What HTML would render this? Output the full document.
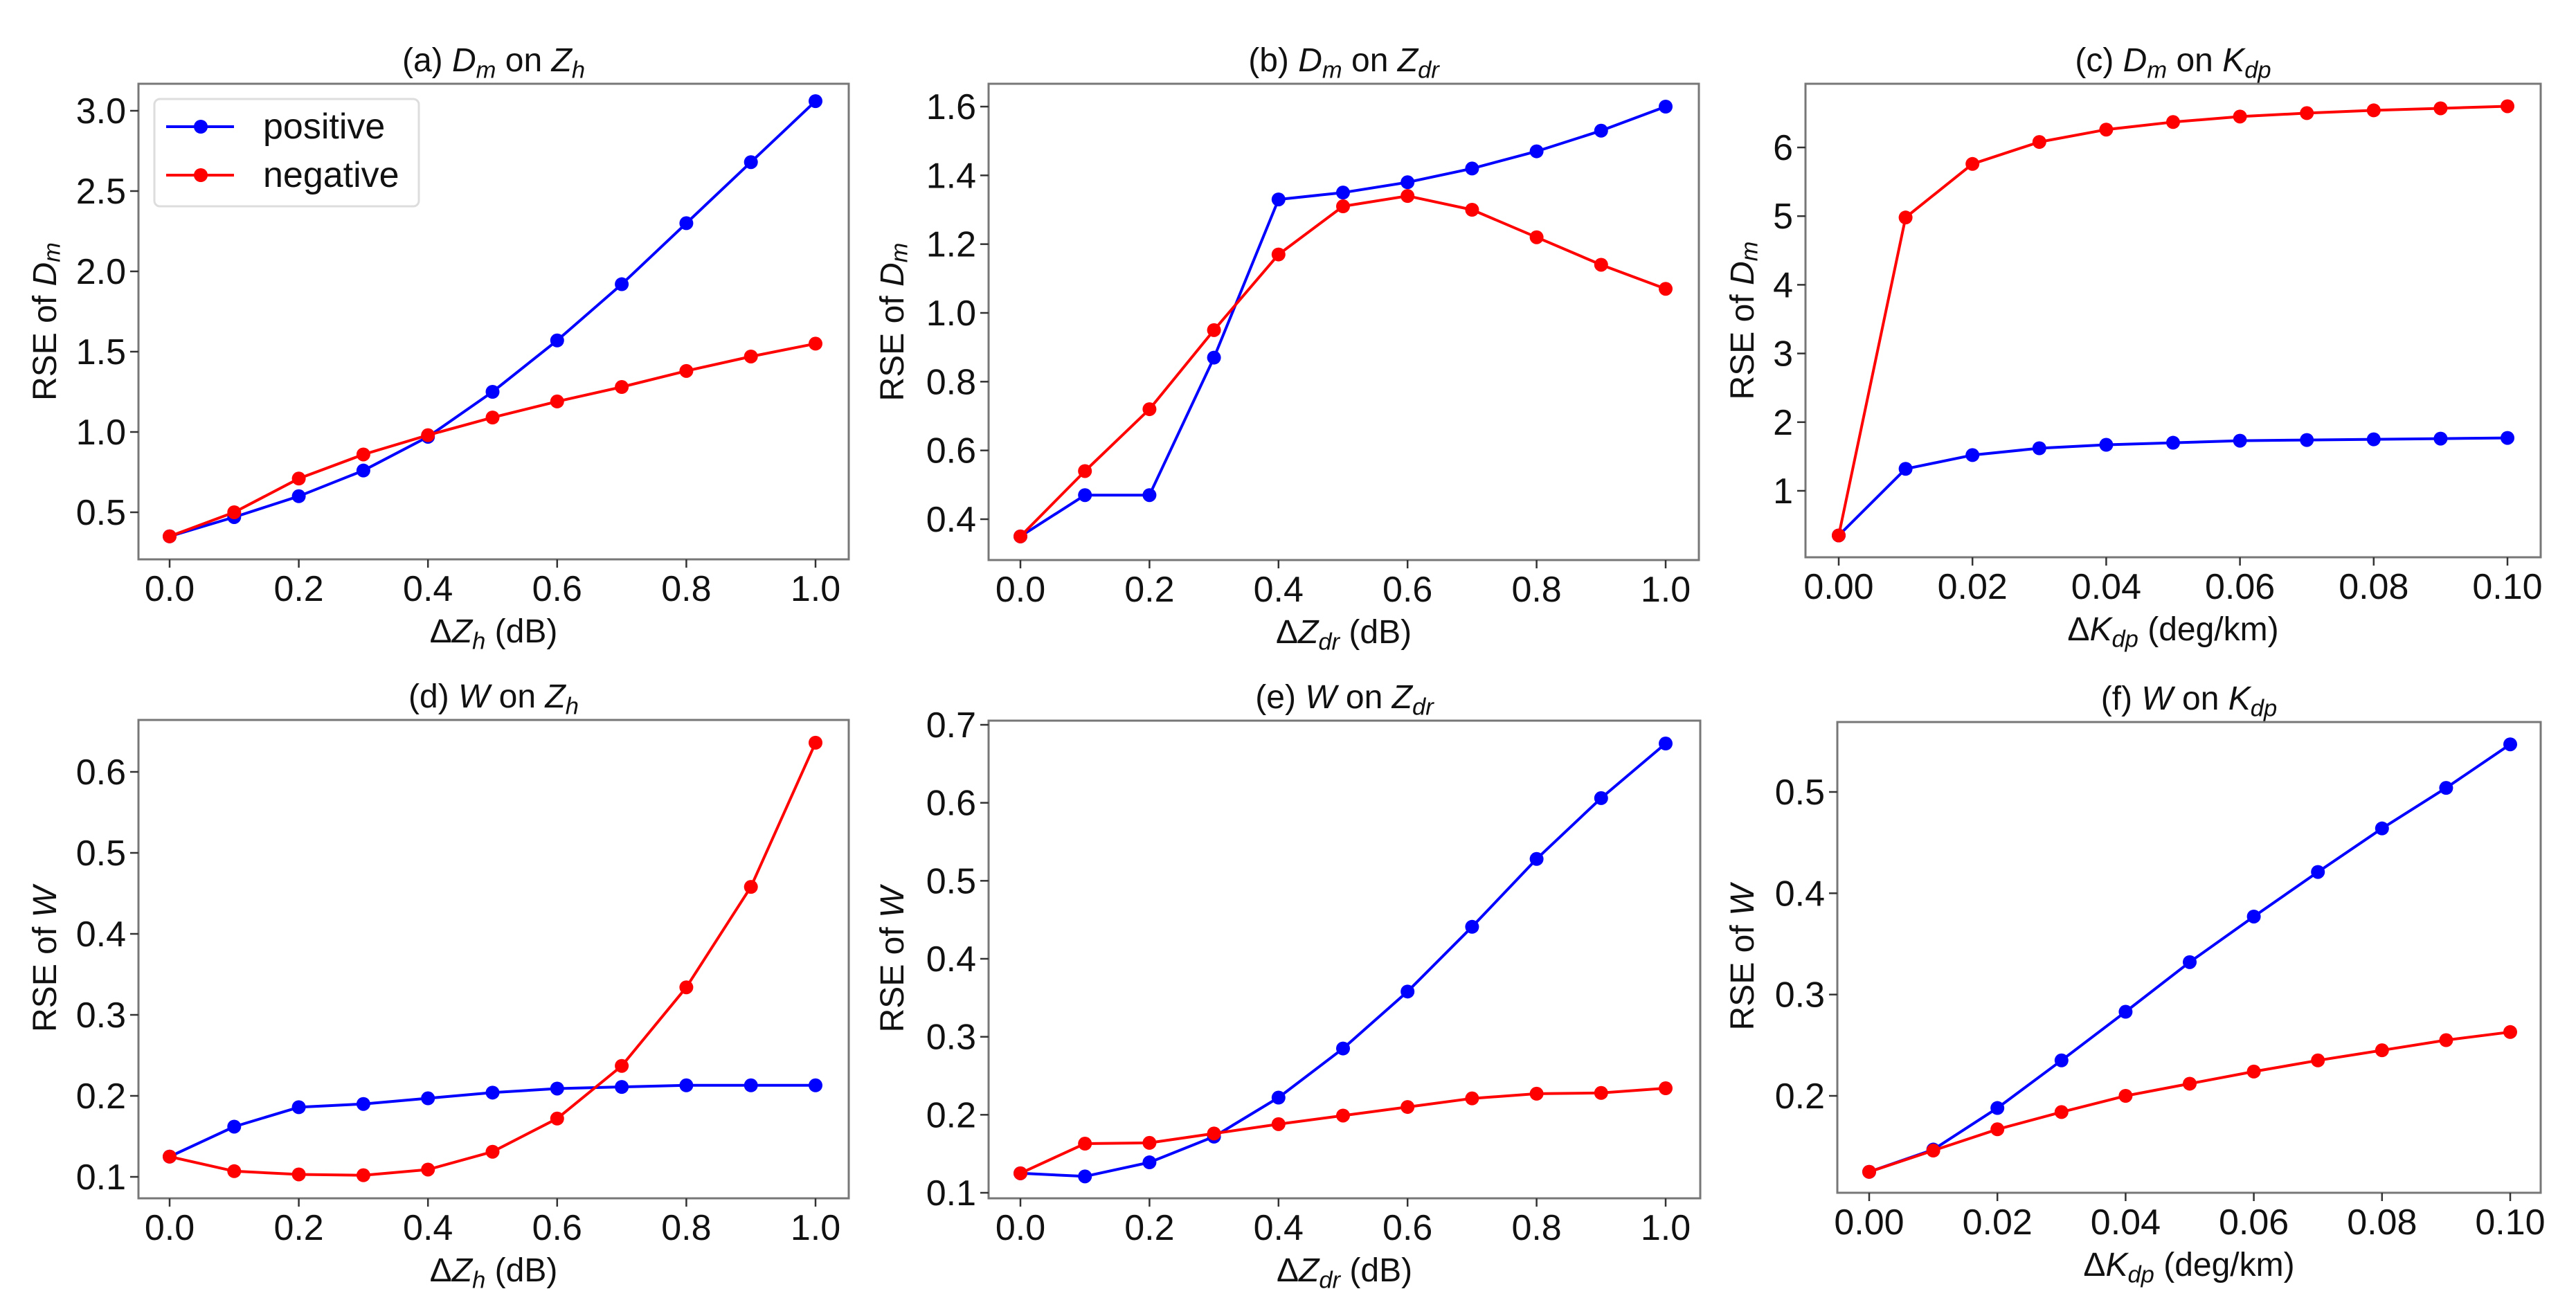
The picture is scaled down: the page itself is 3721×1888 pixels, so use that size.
<!DOCTYPE html>
<html><head><meta charset="utf-8">
<style>
html,body{margin:0;padding:0;background:#fff;}
svg{display:block;font-family:"Liberation Sans",sans-serif;}
</style></head>
<body>
<svg id="fig" width="3721" height="1888" viewBox="0 0 3721 1888" xmlns="http://www.w3.org/2000/svg"></svg>
<script>
const xDb = [0,0.1,0.2,0.3,0.4,0.5,0.6,0.7,0.8,0.9,1.0];
const xKdp = [0,0.01,0.02,0.03,0.04,0.05,0.06,0.07,0.08,0.09,0.10];
const aPos = [0.35,0.47,0.60,0.76,0.97,1.25,1.57,1.92,2.30,2.68,3.06];
const aNeg = [0.35,0.50,0.71,0.86,0.98,1.09,1.19,1.28,1.38,1.47,1.55];
const bPos = [0.35,0.47,0.47,0.87,1.33,1.35,1.38,1.42,1.47,1.53,1.60];
const bNeg = [0.35,0.54,0.72,0.95,1.17,1.31,1.34,1.30,1.22,1.14,1.07];
const cPos = [0.35,1.32,1.52,1.62,1.67,1.70,1.73,1.74,1.75,1.76,1.77];
const cNeg = [0.35,4.98,5.76,6.08,6.26,6.37,6.45,6.50,6.54,6.57,6.60];
const dPos = [0.125,0.162,0.186,0.190,0.197,0.204,0.209,0.211,0.213,0.213,0.213];
const dNeg = [0.125,0.107,0.103,0.102,0.109,0.131,0.172,0.237,0.334,0.458,0.636];
const ePos = [0.125,0.121,0.139,0.172,0.222,0.285,0.358,0.441,0.528,0.606,0.676];
const eNeg = [0.125,0.163,0.164,0.176,0.188,0.199,0.210,0.221,0.227,0.228,0.234];
const fPos = [0.125,0.147,0.188,0.235,0.283,0.332,0.377,0.421,0.464,0.504,0.547];
const fNeg = [0.125,0.146,0.167,0.184,0.200,0.212,0.224,0.235,0.245,0.255,0.263];
const xTicksDb = [0,0.2,0.4,0.6,0.8,1.0];
const xTickLabelsDb = ["0.0","0.2","0.4","0.6","0.8","1.0"];
const xTicksKdp = [0,0.02,0.04,0.06,0.08,0.10];
const xTickLabelsKdp = ["0.00","0.02","0.04","0.06","0.08","0.10"];
const aYTicks = [0.5,1.0,1.5,2.0,2.5,3.0];
const aYLabels = ["0.5","1.0","1.5","2.0","2.5","3.0"];
const bYTicks = [0.4,0.6,0.8,1.0,1.2,1.4,1.6];
const bYLabels = ["0.4","0.6","0.8","1.0","1.2","1.4","1.6"];
const cYTicks = [1,2,3,4,5,6];
const cYLabels = ["1","2","3","4","5","6"];
const dYTicks = [0.1,0.2,0.3,0.4,0.5,0.6];
const dYLabels = ["0.1","0.2","0.3","0.4","0.5","0.6"];
const eYTicks = [0.1,0.2,0.3,0.4,0.5,0.6,0.7];
const eYLabels = ["0.1","0.2","0.3","0.4","0.5","0.6","0.7"];
const fYTicks = [0.2,0.3,0.4,0.5];
const fYLabels = ["0.2","0.3","0.4","0.5"];

const NS="http://www.w3.org/2000/svg";
const svg=document.getElementById('fig');
function mk(tag,attrs,parent){const e=document.createElementNS(NS,tag);for(const k in attrs)e.setAttribute(k,attrs[k]);(parent||svg).appendChild(e);return e;}

const panels=[
 {id:'a',L:200,R:1226,T:121,B:808,x0:245,x1:1178,xv1:1.0,ya:0.5,ypa:740,yb:1.0,ypb:624,xs:xDb,pos:aPos,neg:aNeg,xt:xTicksDb,xl:xTickLabelsDb,yt:aYTicks,yl:aYLabels,
  title:[['(a) ',''],['D','i'],['m','is'],[' on ',''],['Z','i'],['h','is']],ylab:[['RSE of ',''],['D','i'],['m','is']],xlab:[['Δ',''],['Z','i'],['h','is'],[' (dB)','']],yLabX:68,legend:true},
 {id:'b',L:1428,R:2454,T:121,B:809,x0:1474,x1:2406,xv1:1.0,ya:0.4,ypa:750,yb:1.6,ypb:154,xs:xDb,pos:bPos,neg:bNeg,xt:xTicksDb,xl:xTickLabelsDb,yt:bYTicks,yl:bYLabels,
  title:[['(b) ',''],['D','i'],['m','is'],[' on ',''],['Z','i'],['dr','is']],ylab:[['RSE of ',''],['D','i'],['m','is']],xlab:[['Δ',''],['Z','i'],['dr','is'],[' (dB)','']],yLabX:1292},
 {id:'c',L:2608,R:3670,T:121,B:805,x0:2656,x1:3622,xv1:0.1,ya:1,ypa:709,yb:6,ypb:213,xs:xKdp,pos:cPos,neg:cNeg,xt:xTicksKdp,xl:xTickLabelsKdp,yt:cYTicks,yl:cYLabels,
  title:[['(c) ',''],['D','i'],['m','is'],[' on ',''],['K','i'],['dp','is']],ylab:[['RSE of ',''],['D','i'],['m','is']],xlab:[['Δ',''],['K','i'],['dp','is'],[' (deg/km)','']],yLabX:2520},
 {id:'d',L:200,R:1226,T:1040,B:1731,x0:245,x1:1178,xv1:1.0,ya:0.1,ypa:1700,yb:0.6,ypb:1115,xs:xDb,pos:dPos,neg:dNeg,xt:xTicksDb,xl:xTickLabelsDb,yt:dYTicks,yl:dYLabels,
  title:[['(d) ',''],['W','i'],[' on ',''],['Z','i'],['h','is']],ylab:[['RSE of ',''],['W','i']],xlab:[['Δ',''],['Z','i'],['h','is'],[' (dB)','']],yLabX:68},
 {id:'e',L:1428,R:2456,T:1041,B:1731,x0:1474,x1:2406,xv1:1.0,ya:0.1,ypa:1723,yb:0.7,ypb:1047,xs:xDb,pos:ePos,neg:eNeg,xt:xTicksDb,xl:xTickLabelsDb,yt:eYTicks,yl:eYLabels,
  title:[['(e) ',''],['W','i'],[' on ',''],['Z','i'],['dr','is']],ylab:[['RSE of ',''],['W','i']],xlab:[['Δ',''],['Z','i'],['dr','is'],[' (dB)','']],yLabX:1292},
 {id:'f',L:2654,R:3670,T:1043,B:1723,x0:2700,x1:3626,xv1:0.1,ya:0.2,ypa:1583,yb:0.5,ypb:1144,xs:xKdp,pos:fPos,neg:fNeg,xt:xTicksKdp,xl:xTickLabelsKdp,yt:fYTicks,yl:fYLabels,
  title:[['(f) ',''],['W','i'],[' on ',''],['K','i'],['dp','is']],ylab:[['RSE of ',''],['W','i']],xlab:[['Δ',''],['K','i'],['dp','is'],[' (deg/km)','']],yLabX:2520},
];

function rich(t,parts,size){
  let sub=false;
  parts.forEach(p=>{
    const s=mk('tspan',{},t);
    s.textContent=p[0];
    if(p[1].includes('i'))s.setAttribute('font-style','italic');
    if(p[1].includes('s')){s.setAttribute('font-size',size*0.72);s.setAttribute('dy',size*0.2);sub=true;}
    else if(sub){s.setAttribute('dy',-size*0.2);sub=false;}
  });
}

panels.forEach(p=>{
  const g=mk('g',{});
  
  
  const sx=v=>p.x0+(v-0)*(p.x1-p.x0)/p.xv1;
  const sy=v=>p.ypa+(v-p.ya)*(p.ypb-p.ypa)/(p.yb-p.ya);
  const fr=mk('rect',{x:p.L,y:p.T,width:p.R-p.L,height:p.B-p.T,fill:'none',stroke:'#777',"stroke-width":3},g);
  
  
  p.xt.forEach((v,i)=>{
    const X=sx(v);
    const tk=mk('line',{x1:X,x2:X,y1:p.B,y2:p.B+12,stroke:'#333',"stroke-width":2.5},g);
    
    
    const t=mk('text',{x:X,y:p.B+60,"text-anchor":'middle',"font-size":52,fill:'#111'},g);
    
    
    t.textContent=p.xl[i];
  });
  p.yt.forEach((v,i)=>{
    const Y=sy(v);
    const tk=mk('line',{x1:p.L-12,x2:p.L,y1:Y,y2:Y,stroke:'#333',"stroke-width":2.5},g);
    
    
    const t=mk('text',{x:p.L-18,y:Y+18,"text-anchor":'end',"font-size":52,fill:'#111'},g);
    
    
    t.textContent=p.yl[i];
  });
  const tt=mk('text',{x:(p.L+p.R)/2,y:p.T-18,"text-anchor":'middle',"font-size":48,fill:'#111'},g);
  
  
  rich(tt,p.title,48);
  const xlab=mk('text',{x:(p.L+p.R)/2,y:p.B+120,"text-anchor":'middle',"font-size":48,fill:'#111'},g);
  
  
  rich(xlab,p.xlab,48);
  const cy=(p.T+p.B)/2;
  const ylab=mk('text',{x:p.yLabX,y:cy,"text-anchor":'middle',"font-size":48,fill:'#111',transform:`rotate(-90 ${p.yLabX} ${cy})`,"dominant-baseline":'middle'},g);
  
  
  rich(ylab,p.ylab,48);
  [['positive',p.pos,'#0000ff'],['negative',p.neg,'#ff0000']].forEach(s=>{
    const pts=s[1].map((v,i)=>sx(p.xs[i]).toFixed(1)+','+sy(v).toFixed(1)).join(' ');
    const pl=mk('polyline',{points:pts,fill:'none',stroke:s[2],"stroke-width":4,"stroke-linejoin":'round'},g);
    
    
    s[1].forEach((v,i)=>{
      const c=mk('circle',{cx:sx(p.xs[i]),cy:sy(v),r:10,fill:s[2]},g);
      
      
    });
  });
  if(p.legend){
    const lg=mk('g',{},g);
    
    
    mk('rect',{x:223,y:143,width:382,height:155,rx:8,fill:'#fff',stroke:'#ddd',"stroke-width":3},lg);
    [['positive','#0000ff',183],['negative','#ff0000',253]].forEach(e=>{
      const eg=mk('g',{},lg);
      
      
      mk('line',{x1:240,x2:338,y1:e[2],y2:e[2],stroke:e[1],"stroke-width":4},eg);
      mk('circle',{cx:290,cy:e[2],r:10,fill:e[1]},eg);
      const t=mk('text',{x:380,y:e[2]+17,"font-size":52,fill:'#111'},eg);
      t.textContent=e[0];
    });
  }
});
</script>
</body></html>
